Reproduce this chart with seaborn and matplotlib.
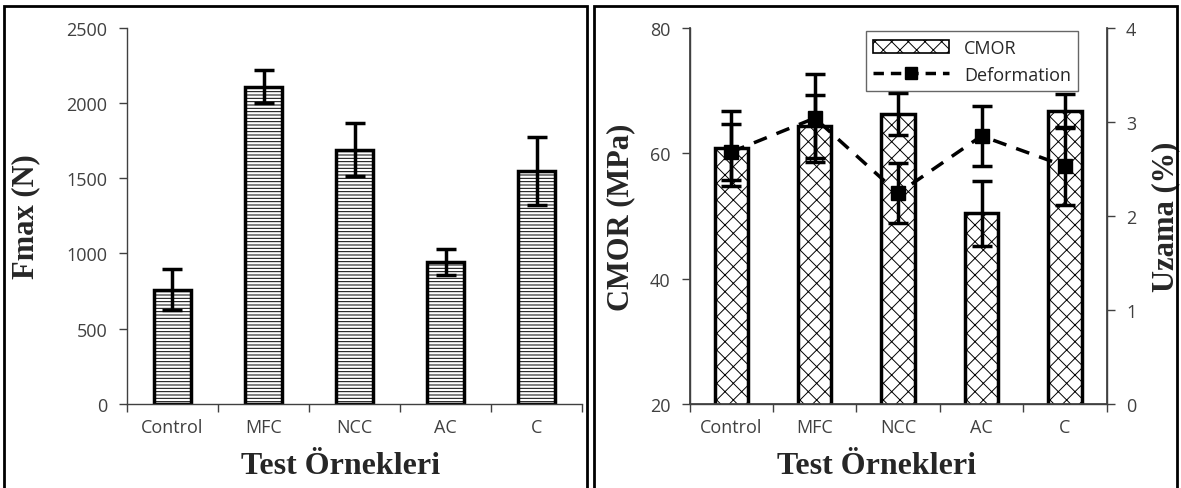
import numpy as np
import pandas as pd
import matplotlib
matplotlib.use("Agg")
import matplotlib.pyplot as plt
from matplotlib.patches import Rectangle, Patch
from matplotlib.lines import Line2D
import seaborn as sns

# ---- data ----
samples = ["Control", "MFC", "NCC", "AC", "C"]
fmax = [760, 2110, 1690, 945, 1550]
fmax_err = [135, 110, 178, 85, 225]
cmor = [60.8, 64.3, 66.3, 50.4, 66.8]
cmor_err = [6.0, 5.0, 3.35, 5.2, 2.6]
deformation = [2.68, 3.04, 2.24, 2.85, 2.53]
deformation_err = [0.30, 0.47, 0.32, 0.32, 0.41]

sns.set_theme(style="ticks")
plt.rcParams["font.family"] = ["Open Sans", "DejaVu Sans"]
plt.rcParams["hatch.linewidth"] = 0.7

TICK_COLOR = "#404040"
serif = ["Liberation Serif", "DejaVu Serif"]

df = pd.DataFrame({"sample": samples, "fmax": fmax, "cmor": cmor})
pos = np.arange(len(samples))

fig = plt.figure(figsize=(11.81, 4.89), dpi=100)
ax1 = fig.add_axes([0.1075, 0.172, 0.3855, 0.769])
ax2 = fig.add_axes([0.584, 0.172, 0.353, 0.769])


def style_cat_axis(ax):
    ax.set_xlim(-0.5, len(samples) - 0.5)
    ax.set_xticks(pos)
    ax.set_xticklabels(samples)
    ax.set_xticks(np.arange(len(samples) + 1) - 0.5, minor=True)
    ax.tick_params(axis="x", which="major", length=0, pad=10, labelsize=13, labelcolor=TICK_COLOR)
    ax.tick_params(axis="x", which="minor", length=6, width=1, color=TICK_COLOR)
    ax.tick_params(axis="y", length=6, width=1, pad=8, color=TICK_COLOR, labelsize=13, labelcolor=TICK_COLOR)
    for s in ax.spines.values():
        s.set_color(TICK_COLOR)
        s.set_linewidth(1)


# ---- left panel: Fmax ----
sns.barplot(data=df, x="sample", y="fmax", ax=ax1, width=0.4, color="white",
            edgecolor="black", linewidth=2.5, hatch="-----", errorbar=None)
ax1.errorbar(pos, fmax, yerr=fmax_err, fmt="none", ecolor="black",
             elinewidth=2.5, capsize=7, capthick=2.5)
ax1.set_ylim(0, 2500)
ax1.set_yticks(range(0, 2501, 500))
style_cat_axis(ax1)
sns.despine(ax=ax1)
ax1.set_ylabel("Fmax (N)", fontsize=22, fontweight="bold", family=serif)
ax1.set_xlabel("Test Örnekleri", fontsize=23, fontweight="bold", family=serif)
ax1.yaxis.set_label_coords(-0.19, 0.5)
ax1.xaxis.set_label_coords(0.47, -0.125)

# ---- right panel: CMOR + deformation ----
sns.barplot(data=df, x="sample", y="cmor", ax=ax2, width=0.4, color="white",
            edgecolor="black", linewidth=2.5, hatch="xx", errorbar=None)
ax2.errorbar(pos, cmor, yerr=cmor_err, fmt="none", ecolor="black",
             elinewidth=2.5, capsize=7, capthick=2.5)
ax2.set_ylim(20, 80)
ax2.set_yticks(range(20, 81, 20))
style_cat_axis(ax2)
ax2.spines["top"].set_visible(False)
ax2.set_ylabel("CMOR (MPa)", fontsize=22, fontweight="bold", family=serif)
ax2.set_xlabel("Test Örnekleri", fontsize=23, fontweight="bold", family=serif)
ax2.yaxis.set_label_coords(-0.13, 0.5)
ax2.xaxis.set_label_coords(0.448, -0.125)

ax3 = ax2.twinx()
ax3.errorbar(pos, deformation, yerr=deformation_err, fmt="s", color="black",
             ms=10, elinewidth=2.5, capsize=7, capthick=2.5, zorder=5)
sns.lineplot(x=pos, y=deformation, ax=ax3, color="black", linestyle=(0, (4, 3)),
             linewidth=2.5, zorder=4)
ax3.set_ylim(0, 4)
ax3.set_yticks(range(0, 5))
ax3.tick_params(axis="y", length=6, width=1, pad=8, color=TICK_COLOR, labelsize=13, labelcolor=TICK_COLOR)
ax3.spines["top"].set_visible(False)
for s in ax3.spines.values():
    s.set_color(TICK_COLOR)
ax3.set_ylabel("Uzama (%)", fontsize=22, fontweight="bold", family=serif)
ax3.yaxis.set_label_coords(1.108, 0.5)

handles = [
    Patch(facecolor="white", edgecolor="black", hatch="xx", linewidth=1.2),
    Line2D([0], [0], color="black", linestyle=(0, (3, 2)), linewidth=2.5,
           marker="s", ms=8),
]
leg = ax3.legend(handles, ["CMOR", "Deformation"], loc="upper right",
                 bbox_to_anchor=(0.94, 1.0), fontsize=13, frameon=True,
                 fancybox=False, edgecolor="#404040", handlelength=4.2,
                 borderaxespad=0.2)
leg.get_frame().set_linewidth(1)

# ---- panel frames ----
fig.add_artist(Rectangle((0.003, -0.02), 0.494, 1.006, transform=fig.transFigure,
                         fill=False, edgecolor="black", linewidth=2))
fig.add_artist(Rectangle((0.503, -0.02), 0.494, 1.006, transform=fig.transFigure,
                         fill=False, edgecolor="black", linewidth=2))

fig.savefig("out.png", dpi=100)
